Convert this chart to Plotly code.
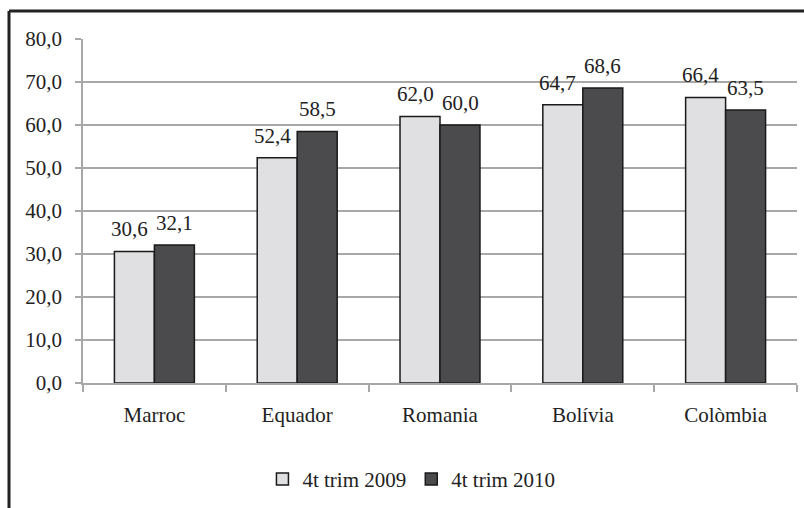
import plotly.graph_objects as go

countries = ["Marroc", "Equador", "Romania", "Bolívia", "Colòmbia"]
q4_2009 = [30.6, 52.4, 62.0, 64.7, 66.4]
q4_2010 = [32.1, 58.5, 60.0, 68.6, 63.5]
series_names = ["4t trim 2009", "4t trim 2010"]
y_ticks = [0, 10, 20, 30, 40, 50, 60, 70, 80]

FONT = "Liberation Serif"
GRID = "#a8a8a8"
FS = 21
TXT = "#222"

fig = go.Figure()
series = [(series_names[0], q4_2009, "#e0e0e2", -25),
          (series_names[1], q4_2010, "#4b4b4d", 20)]
for name, vals, color, _ in series:
    fig.add_trace(go.Bar(
        x=countries, y=vals, name=name,
        marker=dict(color=color, line=dict(color="#1a1a1a", width=1.5)),
    ))

# value labels above each bar
annotations = []
for _, vals, _, dx in series:
    for c, v in zip(countries, vals):
        annotations.append(dict(
            x=c, y=v, xref="x", yref="y", text=f"{v:.1f}".replace(".", ","),
            showarrow=False, xshift=dx, yshift=8, yanchor="bottom",
            font=dict(family=FONT, size=FS, color=TXT),
        ))

fig.update_layout(
    width=804, height=508,
    margin=dict(l=83, r=7, t=39, b=125),
    paper_bgcolor="white", plot_bgcolor="white",
    separators=", ",
    barmode="group", bargap=0.44, bargroupgap=0,
    font=dict(family=FONT, size=FS, color=TXT),
    showlegend=True,
    legend=dict(orientation="h", x=0.46, xanchor="center", y=-0.28, yanchor="middle",
                font=dict(family=FONT, size=FS, color=TXT),
                itemwidth=30, tracegroupgap=0),
    xaxis=dict(showgrid=False, showline=True, linecolor=GRID, linewidth=1.5,
               ticks="outside", tickson="boundaries", ticklen=7, tickcolor=GRID,
               tickwidth=1.5, ticklabelstandoff=12,
               tickfont=dict(family=FONT, size=FS, color=TXT)),
    yaxis=dict(range=[0, 80], tickvals=y_ticks, tickformat=".1f",
               showgrid=True, gridcolor=GRID, gridwidth=1.5,
               showline=True, linecolor=GRID, linewidth=1.5,
               ticks="outside", ticklen=6, tickcolor=GRID, tickwidth=1.5,
               ticklabelstandoff=9,
               zeroline=False, tickfont=dict(family=FONT, size=FS, color=TXT)),
    annotations=annotations,
    shapes=[
        # outer frame: top and left edges of the chart box
        dict(type="line", xref="paper", yref="paper",
             x0=(9 - 83) / 714, x1=1.02, y0=(383 - 11) / 344, y1=(383 - 11) / 344,
             line=dict(color="#222", width=3)),
        dict(type="line", xref="paper", yref="paper",
             x0=(9 - 83) / 714, x1=(9 - 83) / 714, y0=(383 - 11) / 344, y1=-0.4,
             line=dict(color="#222", width=3)),
    ],
)

fig.write_html("out.html")
